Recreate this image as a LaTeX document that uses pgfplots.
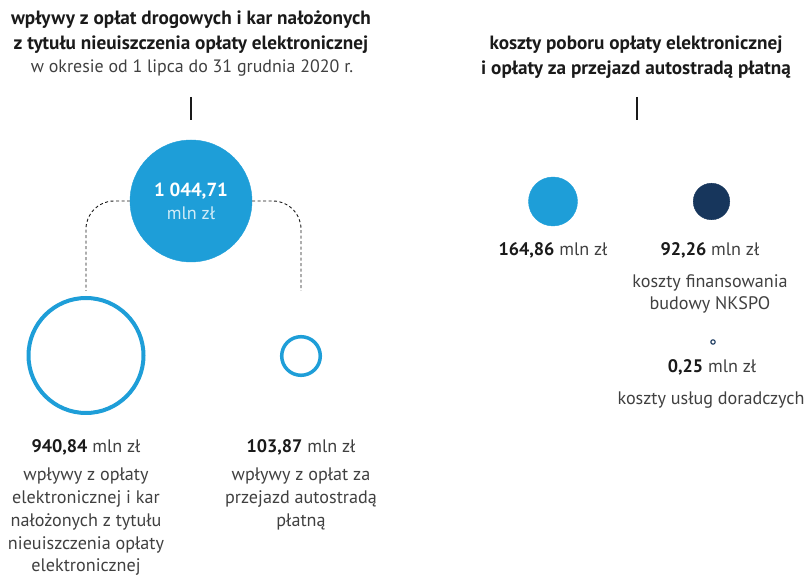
\documentclass[border=0pt]{standalone}
\usepackage{pgfplots}
\pgfplotsset{compat=1.18}
\usepackage{fontspec}
\setmainfont{PT Sans}
\definecolor{lblue}{HTML}{1E9ED8}
\definecolor{navy}{HTML}{17365C}
\definecolor{tdark}{HTML}{1A1A1A}
\definecolor{tgray}{HTML}{404040}
\begin{document}
\begin{tikzpicture}
\begin{axis}[name=ax, width=808bp, height=575bp, scale only axis, set layers,
  xmin=0, xmax=808, ymin=0, ymax=575, y dir=reverse, hide axis, clip=false]
% circles (x, y in px, radius via mark size)
\addplot[only marks, mark=*, mark size=61bp, color=lblue] coordinates {(191,201)};
\addplot[only marks, mark=o, mark size=57.5bp, color=lblue, line width=4bp] coordinates {(86,355.5)};
\addplot[only marks, mark=o, mark size=19.3bp, color=lblue, line width=3.5bp] coordinates {(301,356)};
\addplot[only marks, mark=*, mark size=24.5bp, color=lblue] coordinates {(553,201.5)};
\addplot[only marks, mark=*, mark size=18.3bp, color=navy] coordinates {(711.5,201.5)};
\addplot[only marks, mark=o, mark size=2.2bp, color=navy, line width=1.1bp] coordinates {(713,342)};
% vertical ticks
\addplot[color=tdark, line width=1.2bp] coordinates {(191,97) (191,120)};
\addplot[color=tdark, line width=1.2bp] coordinates {(637,97) (637,120)};
% dashed connectors
\draw[dash pattern=on 3bp off 2.5bp, line width=0.9bp, color=tdark, rounded corners=28bp]
  (axis cs:130,201) -- (axis cs:86,201) -- (axis cs:86,291);
\draw[dash pattern=on 3bp off 2.5bp, line width=0.9bp, color=tdark, rounded corners=28bp]
  (axis cs:252,201) -- (axis cs:301,201) -- (axis cs:301,291);
\begin{pgfonlayer}{axis foreground}
\begin{scope}[every node/.style={anchor=base, inner sep=0pt}]
% titles
\node[font=\fontsize{19.3}{23}\bfseries\selectfont, text=tdark] at (axis cs:191,25) {wpływy z opłat drogowych i kar nałożonych};
\node[font=\fontsize{19.3}{23}\bfseries\selectfont, text=tdark] at (axis cs:191,50) {z tytułu nieuiszczenia opłaty elektronicznej};
\node[font=\fontsize{18}{21}\selectfont, text=tgray] at (axis cs:192,73) {w okresie od 1 lipca do 31 grudnia 2020 r.};
\node[font=\fontsize{19.3}{23}\bfseries\selectfont, text=tdark] at (axis cs:636,50) {koszty poboru opłaty elektronicznej};
\node[font=\fontsize{19.3}{23}\bfseries\selectfont, text=tdark] at (axis cs:636,75) {i opłaty za przejazd autostradą płatną};
% big circle text
\node[font=\fontsize{19}{23}\bfseries\selectfont, text=white] at (axis cs:191,197) {1 044,71};
\node[font=\fontsize{18.2}{21}\selectfont, text=white!80!lblue] at (axis cs:191,220) {mln zł};
% left labels
\node[font=\fontsize{18.2}{21}\selectfont, text=tgray] at (axis cs:86,453) {\textbf{\color{tdark}940,84} mln zł};
\node[font=\fontsize{18.2}{21}\selectfont, text=tgray] at (axis cs:86,481) {wpływy z opłaty};
\node[font=\fontsize{18.2}{21}\selectfont, text=tgray] at (axis cs:86,504) {elektronicznej i kar};
\node[font=\fontsize{18.2}{21}\selectfont, text=tgray] at (axis cs:86,527) {nałożonych z tytułu};
\node[font=\fontsize{18.2}{21}\selectfont, text=tgray] at (axis cs:86,549.5) {nieuiszczenia opłaty};
\node[font=\fontsize{18.2}{21}\selectfont, text=tgray] at (axis cs:86,571) {elektronicznej};
\node[font=\fontsize{18.2}{21}\selectfont, text=tgray] at (axis cs:301,453) {\textbf{\color{tdark}103,87} mln zł};
\node[font=\fontsize{18.2}{21}\selectfont, text=tgray] at (axis cs:301,481) {wpływy z opłat za};
\node[font=\fontsize{18.2}{21}\selectfont, text=tgray] at (axis cs:301,504) {przejazd autostradą};
\node[font=\fontsize{18.2}{21}\selectfont, text=tgray] at (axis cs:301,527) {płatną};
% right labels
\node[font=\fontsize{18.2}{21}\selectfont, text=tgray] at (axis cs:553,256) {\textbf{\color{tdark}164,86} mln zł};
\node[font=\fontsize{18.2}{21}\selectfont, text=tgray] at (axis cs:710,256) {\textbf{\color{tdark}92,26} mln zł};
\node[font=\fontsize{18.2}{21}\selectfont, text=tgray] at (axis cs:710,288) {koszty finansowania};
\node[font=\fontsize{18.2}{21}\selectfont, text=tgray] at (axis cs:710,310) {budowy NKSPO};
\node[font=\fontsize{18.2}{21}\selectfont, text=tgray] at (axis cs:712,373) {\textbf{\color{tdark}0,25} mln zł};
\node[font=\fontsize{18.2}{21}\selectfont, text=tgray] at (axis cs:711,405) {koszty usług doradczych};
\end{scope}
\end{pgfonlayer}
\end{axis}
\pgfresetboundingbox
\path[use as bounding box] (ax.south west) rectangle (ax.north east);
\end{tikzpicture}
\end{document}
